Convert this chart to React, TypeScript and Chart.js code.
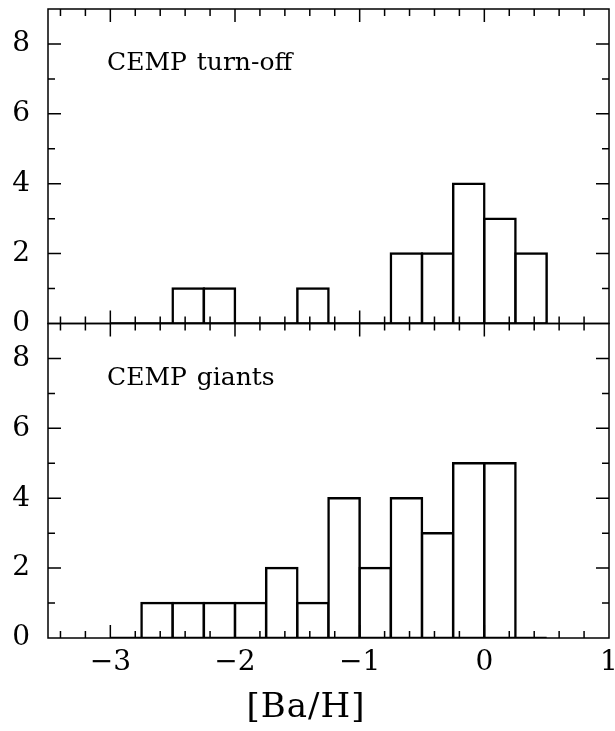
import React, { useEffect, useRef } from "react";
import { Chart, registerables } from "chart.js";

Chart.register(...registerables);

// ---- data ----
const binStarts = [-3.0, -2.75, -2.5, -2.25, -2.0, -1.75, -1.5, -1.25, -1.0, -0.75, -0.5, -0.25, 0.0, 0.25];
const binWidth = 0.25;
const turnOffCounts = [0, 0, 1, 1, 0, 0, 1, 0, 0, 2, 2, 4, 3, 2];
const giantCounts = [0, 1, 1, 1, 1, 2, 1, 4, 2, 4, 3, 5, 5, 0];
const yTickValues = [0, 2, 4, 6, 8];
const xTickValues = [-3, -2, -1, 0, 1];
const panelLabels = ["CEMP turn-off", "CEMP giants"];
const xTitle = "[Ba/H]";
const X_MIN = -3.5;
const X_MAX = 1;
const Y_MIN = 0;
const Y_MAX = 9;

const SERIF = "'DejaVu Serif', 'Liberation Serif', serif";
const LINE_W = 2.5;

const fmt = (v: number) => (v < 0 ? "\u2212" + Math.abs(v) : String(v));

const histPoints = (counts: number[]) =>
  binStarts.map((s, i) => ({ x: s + binWidth / 2, y: counts[i] }));
const baseLine = () => [
  { x: binStarts[0], y: 0 },
  { x: binStarts[binStarts.length - 1] + binWidth, y: 0 },
];

const zeroPad = (s: any) => {
  s.paddingTop = 0;
  s.paddingBottom = 0;
  s.paddingLeft = 0;
  s.paddingRight = 0;
};

const framePlugin = {
  id: "frameTicks",
  afterDatasetsDraw(chart: any) {
    const ctx = chart.ctx as CanvasRenderingContext2D;
    const xs = chart.scales.x;
    const panels = [chart.scales.yTop, chart.scales.yBot];
    const left = chart.chartArea.left;
    const right = chart.chartArea.right;
    ctx.save();
    ctx.strokeStyle = "#000";
    ctx.lineWidth = 1.5;
    panels.forEach((ys: any, idx: number) => {
      const top = ys.top;
      const bottom = ys.bottom;
      ctx.strokeRect(left, top, right - left, bottom - top);
      ctx.beginPath();
      for (let v = Y_MIN + 1; v < Y_MAX; v++) {
        const p = ys.getPixelForValue(v);
        const len = v % 2 === 0 ? 13 : 7;
        ctx.moveTo(left, p);
        ctx.lineTo(left + len, p);
        ctx.moveTo(right, p);
        ctx.lineTo(right - len, p);
      }
      for (let k = -17; k <= 4; k++) {
        const p = xs.getPixelForValue(k / 5);
        const len = k % 5 === 0 ? 13 : 7;
        ctx.moveTo(p, top);
        ctx.lineTo(p, top + len);
        ctx.moveTo(p, bottom);
        ctx.lineTo(p, bottom - len);
      }
      ctx.stroke();

      // panel label
      ctx.fillStyle = "#000";
      ctx.font = `25px ${SERIF}`;
      (ctx as any).letterSpacing = "0px";
      (ctx as any).wordSpacing = "2px";
      ctx.textAlign = "left";
      ctx.textBaseline = "alphabetic";
      ctx.fillText(panelLabels[idx], left + 59, top + 61);
    });

    // x-axis title
    ctx.font = `34px ${SERIF}`;
    (ctx as any).letterSpacing = "1px";
    (ctx as any).wordSpacing = "0px";
    ctx.textAlign = "center";
    ctx.textBaseline = "alphabetic";
    ctx.fillText(xTitle, left + 258, xs.top + 79);
    ctx.restore();
  },
};

export default function App() {
  const ref = useRef<HTMLCanvasElement | null>(null);

  useEffect(() => {
    if (!ref.current) return;
    const yScale = (stack: string) => ({
      type: "linear" as const,
      position: "left" as const,
      stack,
      stackWeight: 1,
      min: Y_MIN,
      max: Y_MAX,
      grid: { display: false, drawTicks: false },
      border: { display: false },
      afterBuildTicks: (s: any) => {
        s.ticks = yTickValues.map((v) => ({ value: v }));
      },
      afterFit: (s: any) => {
        s.width = 48;
        zeroPad(s);
      },
      ticks: {
        color: "#000",
        padding: 18,
        font: { family: SERIF, size: 28 },
        callback: (v: any) => fmt(Number(v)),
      },
    });

    const chart = new Chart(ref.current, {
      type: "bar",
      data: {
        datasets: [
          {
            type: "line",
            data: baseLine(),
            xAxisID: "x",
            yAxisID: "yTop",
            borderColor: "#000",
            borderWidth: LINE_W,
            pointRadius: 0,
            order: 0,
          } as any,
          {
            type: "line",
            data: baseLine(),
            xAxisID: "x",
            yAxisID: "yBot",
            borderColor: "#000",
            borderWidth: LINE_W,
            pointRadius: 0,
            order: 0,
          } as any,
          {
            type: "bar",
            data: histPoints(turnOffCounts),
            xAxisID: "x",
            yAxisID: "yTop",
            backgroundColor: "#fff",
            borderColor: "#000",
            borderWidth: LINE_W,
            inflateAmount: LINE_W / 2,
            borderSkipped: "start",
            barPercentage: 1,
            categoryPercentage: 1,
            grouped: false,
            order: 1,
          } as any,
          {
            type: "bar",
            data: histPoints(giantCounts),
            xAxisID: "x",
            yAxisID: "yBot",
            backgroundColor: "#fff",
            borderColor: "#000",
            borderWidth: LINE_W,
            inflateAmount: LINE_W / 2,
            borderSkipped: "start",
            barPercentage: 1,
            categoryPercentage: 1,
            grouped: false,
            order: 1,
          } as any,
        ],
      },
      options: {
        animation: false,
        responsive: false,
        devicePixelRatio: 1,
        layout: { padding: { top: 9, right: 6, left: 0, bottom: 0 } },
        plugins: {
          legend: { display: false },
          tooltip: { enabled: false },
        },
        scales: {
          x: {
            type: "linear",
            position: "bottom",
            min: X_MIN,
            max: X_MAX,
            offset: false,
            grid: { display: false, drawTicks: false },
            border: { display: false },
            afterBuildTicks: (s: any) => {
              s.ticks = xTickValues.map((v) => ({ value: v }));
            },
            afterFit: (s: any) => {
              s.height = 93;
              zeroPad(s);
            },
            ticks: {
              color: "#000",
              padding: 8,
              autoSkip: false,
              maxRotation: 0,
              font: { family: SERIF, size: 28 },
              callback: (v: any) => fmt(Number(v)),
            },
          },
          yBot: yScale("panels"),
          yTop: yScale("panels"),
        } as any,
      },
      plugins: [framePlugin],
    });
    return () => chart.destroy();
  }, []);

  return (
    <div style={{ position: "absolute", left: 0, top: 0, width: 615, height: 731, background: "#fff" }}>
      <canvas ref={ref} width={615} height={731} style={{ display: "block", width: 615, height: 731 }} />
    </div>
  );
}
